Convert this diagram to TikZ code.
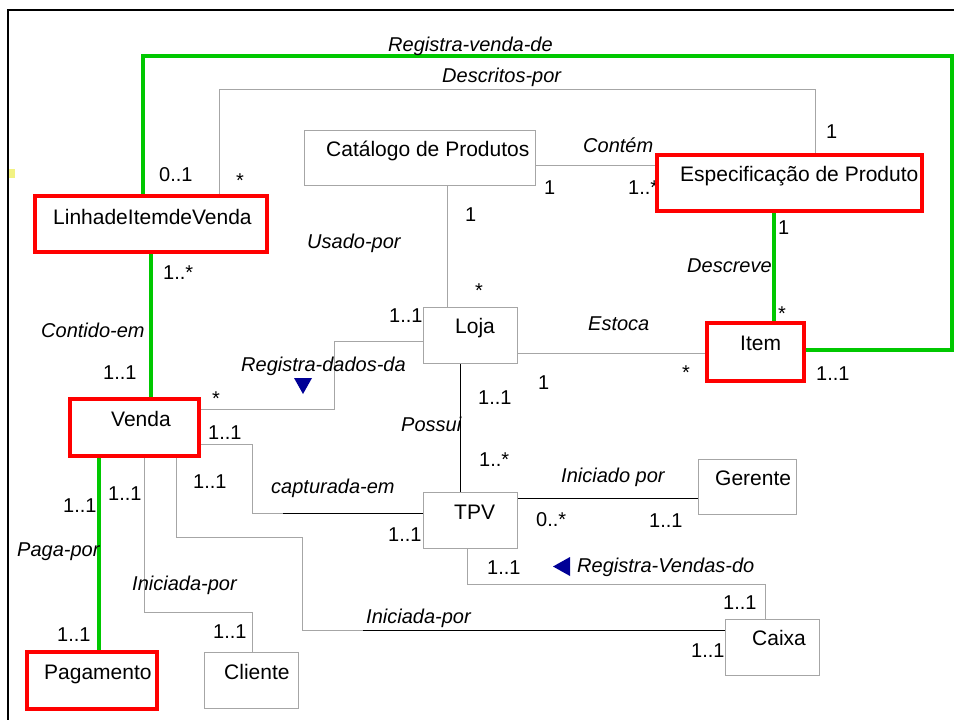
\documentclass[tikz,border=0pt]{standalone}
\usepackage{fontspec}
\setmainfont{Liberation Sans}
\pgfdeclarelayer{paper}
\pgfdeclarelayer{links}
\pgfsetlayers{paper,links,main}
\definecolor{assocgreen}{RGB}{0,200,0}
\definecolor{keyred}{RGB}{255,0,0}
\definecolor{boxgray}{RGB}{166,166,166}
\definecolor{arrownavy}{RGB}{0,0,150}
\definecolor{markyellow}{RGB}{242,242,130}
\tikzset{
  classbox/.style={draw=boxgray, line width=1pt, fill=white, inner sep=0pt},
  keybox/.style={draw=keyred, line width=4pt, fill=white, inner sep=0pt},
  cname/.style={font=\fontsize{21}{25}\selectfont, anchor=base west, inner sep=0pt},
  mult/.style={font=\fontsize{20}{24}\selectfont, anchor=base west, inner sep=0pt},
  assoc/.style={font=\fontsize{20}{24}\selectfont\itshape, anchor=base west, inner sep=0pt},
  grayline/.style={draw=boxgray, line width=1pt},
  blackline/.style={draw=black, line width=1pt},
  greenline/.style={draw=assocgreen, line width=3.5pt},
}
\begin{document}
\begin{tikzpicture}[x=1pt,y=-1pt]
\useasboundingbox (0,0) rectangle (954,720);
\begin{pgfonlayer}{paper}
\fill[white] (0,0) rectangle (954,720);
% frame
\draw[line width=2.5pt] (8,720) -- (8,10) -- (954,10);
\fill[markyellow] (9,169) rectangle (15,178);
\end{pgfonlayer}

% classes
\node[classbox, minimum width=231pt, minimum height=55pt] (cat) at (419.5,157.5) {};
\node[keybox, minimum width=232pt, minimum height=56pt] (linha) at (151,224) {};
\node[keybox, minimum width=265pt, minimum height=56pt] (espec) at (789.5,183) {};
\node[classbox, minimum width=94pt, minimum height=56pt] (loja) at (470,335) {};
\node[keybox, minimum width=97pt, minimum height=58pt] (item) at (755.5,352) {};
\node[keybox, minimum width=129pt, minimum height=57pt] (venda) at (134.5,427.5) {};
\node[classbox, minimum width=94pt, minimum height=56pt] (tpv) at (470,520) {};
\node[classbox, minimum width=98pt, minimum height=55pt] (gerente) at (747,486.5) {};
\node[classbox, minimum width=94pt, minimum height=56pt] (caixa) at (772,647) {};
\node[keybox, minimum width=130pt, minimum height=57pt] (pag) at (92,680.5) {};
\node[classbox, minimum width=94pt, minimum height=56pt] (cliente) at (251,680) {};

% class names
\node[cname] (cat-t) at (326,156) {Catálogo de Produtos};
\node[cname] (linha-t) at (53,224) {LinhadeItemdeVenda};
\node[cname] (espec-t) at (680,181) {Especificação de Produto};
\node[cname] (loja-t) at (455,333) {Loja};
\node[cname] (item-t) at (740,350) {Item};
\node[cname] (venda-t) at (111,426) {Venda};
\node[cname] (tpv-t) at (454,519) {TPV};
\node[cname] (gerente-t) at (715,485) {Gerente};
\node[cname] (caixa-t) at (752,645) {Caixa};
\node[cname] (pag-t) at (44,679) {Pagamento};
\node[cname] (cliente-t) at (224,679) {Cliente};

% bend points of the associations
\coordinate (rv1) at (143,56);
\coordinate (rv2) at (952,56);
\coordinate (rv3) at (952,350);
\coordinate (ce) at (151,0);
\coordinate (pp) at (99,0);
\coordinate (ds) at (774,0);
\coordinate (dp1) at (219,89);
\coordinate (dp2) at (815,89);
\coordinate (ct) at (0,165);
\coordinate (up) at (447,0);
\coordinate (es) at (0,353);
\coordinate (rd1) at (334,341);
\coordinate (rd2) at (334,409);
\coordinate (cp1) at (252,444);
\coordinate (cp2) at (252,513);
\coordinate (cp3) at (283,513);
\coordinate (cl1) at (144,612);
\coordinate (cl2) at (252,612);
\coordinate (ip1) at (176,537);
\coordinate (ip2) at (302,537);
\coordinate (ip3) at (302,630);
\coordinate (ip4) at (363,630);
\coordinate (rvd1) at (467,584);
\coordinate (rvd2) at (765,584);
\coordinate (ps) at (460,0);
\coordinate (ib) at (0,498);

\begin{pgfonlayer}{links}
% gray associations
\draw[grayline] (linha.north -| dp1) -- (dp1) -- (dp2) -- (espec.north -| dp2);
\draw[grayline] (cat.east |- ct) -- (espec.west |- ct);
\draw[grayline] (cat.south -| up) -- (loja.north -| up);
\draw[grayline] (loja.east |- es) -- (item.west |- es);
\draw[grayline] (loja.west |- rd1) -- (rd1) -- (rd2) -- (venda.east |- rd2);
\draw[grayline] (venda.east |- cp1) -- (cp1) -- (cp2) -- (cp3);
\draw[blackline] (cp3) -- (tpv.west |- cp3);
\draw[grayline] (venda.south -| cl1) -- (cl1) -- (cl2) -- (cliente.north -| cl2);
\draw[grayline] (venda.south -| ip1) -- (ip1) -- (ip2) -- (ip3) -- (ip4);
\draw[blackline] (ip4) -- (caixa.west |- ip4);
\draw[grayline] (tpv.south -| rvd1) -- (rvd1) -- (rvd2) -- (caixa.north -| rvd2);
% black associations
\draw[blackline] (loja.south -| ps) -- (tpv.north -| ps);
\draw[blackline] (tpv.east |- ib) -- (gerente.west |- ib);
% green associations
\draw[greenline] (linha.north -| rv1) -- (rv1) -- (rv2) -- (rv3) -- (item.east |- rv3);
\draw[greenline] (linha.south -| ce) -- (venda.north -| ce);
\draw[greenline] (venda.south -| pp) -- (pag.north -| pp);
\draw[greenline] (espec.south -| ds) -- (item.north -| ds);
% multiplicity tucked under the Especificacao box
\node[mult] (m-ct2) at (628,194) {1..*};
\end{pgfonlayer}

% association names
\node[assoc] (a-rv) at (388,51) {Registra-venda-de};
\node[assoc] (a-dp) at (442,82) {Descritos-por};
\node[assoc] (a-ct) at (583,152) {Contém};
\node[assoc] (a-up) at (307,248) {Usado-por};
\node[assoc] (a-es) at (588,330) {Estoca};
\node[assoc] (a-ds) at (687,272) {Descreve};
\node[assoc] (a-ps) at (401,431) {Possui};
\node[assoc] (a-ib) at (561,482) {Iniciado por};
\node[assoc] (a-cp) at (271,493) {capturada-em};
\node[assoc] (a-pp) at (17,556) {Paga-por};
\node[assoc] (a-ic) at (132,590) {Iniciada-por};
\node[assoc] (a-ix) at (366,623) {Iniciada-por};
\node[assoc] (a-rvd) at (577,572) {Registra-Vendas-do};
\node[assoc] (a-ce) at (41,337) {Contido-em};
\node[assoc] (a-rd) at (241,371) {Registra-dados-da};

% reading-direction arrows
\fill[arrownavy] (294,378) -- (312,378) -- (303,394) -- cycle;
\fill[arrownavy] (570,557) -- (570,576) -- (553,566.5) -- cycle;

% multiplicities
\node[mult] (m-rv1) at (159,181) {0..1};
\node[mult] (m-dp1) at (236,187) {*};
\node[mult] (m-dp2) at (826,138) {1};
\node[mult] (m-ct1) at (544,194) {1};
\node[mult] (m-up1) at (465,221) {1};
\node[mult] (m-up2) at (475,297) {*};
\node[mult] (m-rd1) at (389,322) {1..1};
\node[mult] (m-es1) at (538,389) {1};
\node[mult] (m-es2) at (682,379) {*};
\node[mult] (m-ds1) at (778,234) {1};
\node[mult] (m-ds2) at (778,320) {*};
\node[mult] (m-rv2) at (816,380) {1..1};
\node[mult] (m-ps1) at (478,404) {1..1};
\node[mult] (m-ps2) at (479,466) {1..*};
\node[mult] (m-ib1) at (536,526) {0..*};
\node[mult] (m-ib2) at (649,527) {1..1};
\node[mult] (m-cp2) at (388,541) {1..1};
\node[mult] (m-cp1) at (208,439) {1..1};
\node[mult] (m-ix1) at (193,488) {1..1};
\node[mult] (m-ic1) at (108,500) {1..1};
\node[mult] (m-pp1) at (63,512) {1..1};
\node[mult] (m-ic2) at (213,638) {1..1};
\node[mult] (m-pp2) at (57,641) {1..1};
\node[mult] (m-rvd1) at (487,574) {1..1};
\node[mult] (m-rvd2) at (723,609) {1..1};
\node[mult] (m-ix2) at (691,657) {1..1};
\node[mult] (m-ce1) at (163,279) {1..*};
\node[mult] (m-ce2) at (103,379) {1..1};
\node[mult] (m-rd2) at (212,405) {*};
\end{tikzpicture}
\end{document}
